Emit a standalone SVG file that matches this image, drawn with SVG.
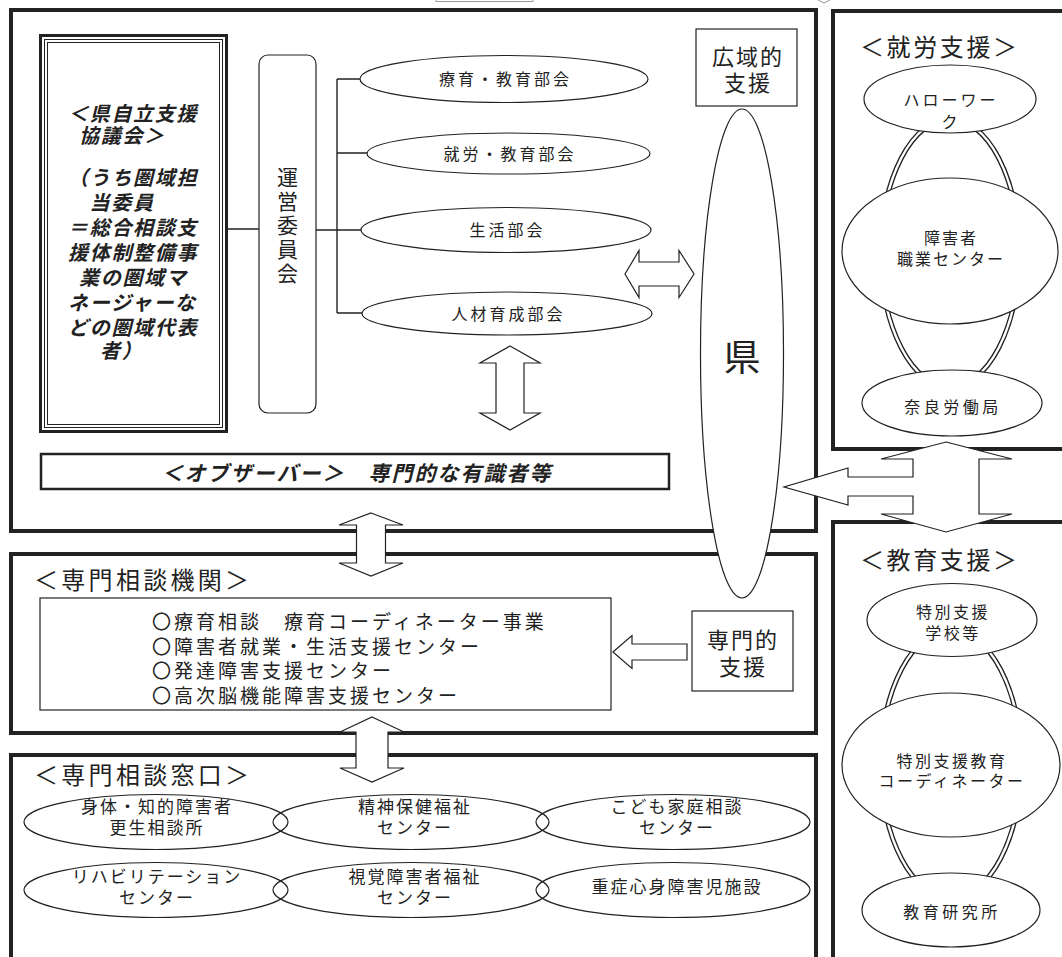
<svg xmlns="http://www.w3.org/2000/svg" width="1062" height="957" viewBox="0 0 1062 957">
<style>
.frame{fill:none;stroke:#222;stroke-width:4}
.thin{fill:#fff;stroke:#222;stroke-width:1.2}
.open{fill:none;stroke:#222;stroke-width:1.2}
.line{fill:none;stroke:#222;stroke-width:1.4}
.arr{fill:#fff;stroke:#222;stroke-width:1.2;stroke-linejoin:miter}
.dbl1{fill:none;stroke:#222;stroke-width:5}
.dbl2{fill:none;stroke:#fff;stroke-width:2.4}
.t{font-family:"Noto Sans CJK JP","Noto Sans CJK SC",sans-serif;fill:#222}
.bi{font-weight:bold;font-style:italic;font-size:20px;letter-spacing:1.7px}
.s16{font-size:16px;letter-spacing:3px}
.s17{font-size:17px;letter-spacing:2px}
.title{font-size:24px}
</style>
<rect width="1062" height="957" fill="#fff"/>
<g id="fragments">
<path d="M436,0 V1.5 H533 V0" fill="none" stroke="#999" stroke-width="1"/>
<path d="M818,0 L824,3 L830,0" fill="none" stroke="#999" stroke-width="1"/>
</g>
<g id="frames">
<rect class="frame" x="11" y="10" width="805" height="521"/>
<path class="frame" d="M1070,11 H833 V449 H1070"/>
<path class="frame" d="M1070,522 H833 V965"/>
<rect class="frame" x="11" y="554" width="805" height="179"/>
<path class="frame" d="M11,965 V755 H816 V965"/>
</g>
<g id="connectors">
<path class="line" d="M227,229 H259 M316,230 H337 M337,79 V313 M337,79 H360 M337,153 H367 M337,230 H361 M337,313 H362"/>
<ellipse class="dbl1" cx="950" cy="253" rx="69" ry="134"/>
<ellipse class="dbl2" cx="950" cy="253" rx="69" ry="134"/>
<ellipse class="dbl1" cx="951" cy="764" rx="70" ry="134"/>
<ellipse class="dbl2" cx="951" cy="764" rx="70" ry="134"/>
<polygon class="arr" points="625,274 639,250.5 639,262 679,262 679,250.5 694,274 679,297.5 679,286 639,286 639,297.5"/>
<polygon class="arr" points="510,346 540,363 524,363 524,413 540,413 510,430 480,413 496,413 496,363 480,363"/>
<polygon class="arr" points="371,513 403,525 385.5,525 385.5,563 403,563 371,576 339,563 356.5,563 356.5,525 339,525"/>
<polygon class="arr" points="372,717 404,732 388,732 388,768 404,768 372,782 340,768 356,768 356,732 340,732"/>
<polygon class="arr" points="613,652 632,635.5 632,644 687,644 687,660 632,660 632,668.5"/>
<polygon class="arr" points="946,442 1012,459 979,459 979,514 1012,514 946,532 881,514 913,514 913,496 848,496 848,505 784,487 848,468 848,477 913,477 913,459 881,459"/>
</g>
<g id="kyogikai">
<rect x="40.5" y="35.5" width="186" height="396" fill="#fff" stroke="#222" stroke-width="3"/>
<rect x="44.5" y="39.5" width="178" height="388" fill="none" stroke="#222" stroke-width="1"/>
<rect x="47.5" y="42.5" width="172" height="382" fill="none" stroke="#222" stroke-width="1"/>
<text class="t bi" x="68" y="120.5">＜県自立支援</text>
<text class="t bi" x="79" y="142.5">協議会＞</text>
<text class="t bi" x="68" y="184.5">（うち圏域担</text>
<text class="t bi" x="89.5" y="209.5">当委員</text>
<text class="t bi" x="68" y="234.5">＝総合相談支</text>
<text class="t bi" x="68" y="259.5">援体制整備事</text>
<text class="t bi" x="79" y="284.5">業の圏域マ</text>
<text class="t bi" x="68" y="309.5">ネージャーな</text>
<text class="t bi" x="68" y="334.5">どの圏域代表</text>
<text class="t bi" x="100" y="357.5">者）</text>
</g>
<g id="unei">
<rect class="thin" x="259" y="55" width="57" height="358" rx="9"/>
<text class="t" font-size="21" text-anchor="middle"><tspan x="287.5" y="184.5">運</tspan><tspan x="287.5" y="208.5">営</tspan><tspan x="287.5" y="232.5">委</tspan><tspan x="287.5" y="256.5">員</tspan><tspan x="287.5" y="280.5">会</tspan></text>
</g>
<g id="bukai1"><ellipse class="thin" cx="504" cy="79" rx="144" ry="23.5"/><text class="t s16" x="505.5" y="85" text-anchor="middle">療育・教育部会</text></g>
<g id="bukai2"><ellipse class="thin" cx="508.5" cy="153.5" rx="141.5" ry="20.5"/><text class="t s16" x="510" y="159.5" text-anchor="middle">就労・教育部会</text></g>
<g id="bukai3"><ellipse class="thin" cx="506" cy="230" rx="145" ry="22.5"/><text class="t s16" x="507.5" y="236" text-anchor="middle">生活部会</text></g>
<g id="bukai4"><ellipse class="thin" cx="507" cy="313.5" rx="145" ry="21.5"/><text class="t s16" x="508.5" y="319.5" text-anchor="middle">人材育成部会</text></g>
<g id="observer">
<rect x="41" y="454" width="628" height="35" fill="#fff" stroke="#222" stroke-width="2.5"/>
<text class="t bi" x="357" y="480.5" text-anchor="middle" style="font-size:21px;letter-spacing:2px">＜オブザーバー＞　専門的な有識者等</text>
</g>
<g id="koiki">
<rect class="thin" x="696" y="29" width="101" height="77"/>
<text class="t" font-size="22" letter-spacing="2" text-anchor="middle"><tspan x="748" y="65">広域的</tspan><tspan x="748" y="91">支援</tspan></text>
</g>
<g id="ken">
<ellipse class="thin" cx="742" cy="353.5" rx="41.5" ry="244.5"/>
<text class="t" font-size="37" x="742" y="371" text-anchor="middle">県</text>
</g>
<g id="senmon-kikan">
<text class="t title" x="34" y="589" letter-spacing="3.3">＜専門相談機関＞</text>
<rect class="thin" x="40" y="598" width="571" height="112"/>
<text class="t" font-size="19" letter-spacing="3"><tspan x="152" y="629">〇療育相談　療育コーディネーター事業</tspan><tspan x="152" y="653.5">〇障害者就業・生活支援センター</tspan><tspan x="152" y="678">〇発達障害支援センター</tspan><tspan x="152" y="702.5">〇高次脳機能障害支援センター</tspan></text>
</g>
<g id="senmon-shien">
<rect class="thin" x="692" y="611" width="101" height="80"/>
<text class="t" font-size="22" letter-spacing="2" text-anchor="middle"><tspan x="743" y="648">専門的</tspan><tspan x="743" y="675">支援</tspan></text>
</g>
<g id="shuro">
<text class="t title" x="860" y="56" letter-spacing="2.6">＜就労支援＞</text>
</g>
<g id="hellowork"><ellipse class="thin" cx="950" cy="99" rx="86" ry="34"/><text class="t s16" text-anchor="middle" letter-spacing="2.5"><tspan x="951" y="106">ハローワー</tspan><tspan x="951" y="128">ク</tspan></text></g>
<g id="shokugyo"><ellipse class="thin" cx="950" cy="251" rx="108" ry="73"/><text class="t s16" text-anchor="middle" style="letter-spacing:2px"><tspan x="951" y="244">障害者</tspan><tspan x="951" y="265">職業センター</tspan></text></g>
<g id="rodokyoku"><ellipse class="thin" cx="952" cy="403" rx="90" ry="33"/><text class="t s16" x="953" y="413" text-anchor="middle" style="letter-spacing:3.5px">奈良労働局</text></g>
<g id="kyoiku">
<text class="t title" x="860" y="569" letter-spacing="2.6">＜教育支援＞</text>
</g>
<g id="tokubetsu"><ellipse class="thin" cx="952" cy="620" rx="85" ry="36.5"/><text class="t s16" text-anchor="middle" style="letter-spacing:2.5px"><tspan x="953" y="618">特別支援</tspan><tspan x="953" y="639">学校等</tspan></text></g>
<g id="coordinator"><ellipse class="thin" cx="951" cy="765" rx="109" ry="72"/><text class="t s16" text-anchor="middle" style="letter-spacing:2.5px"><tspan x="952" y="767">特別支援教育</tspan><tspan x="952" y="787">コーディネーター</tspan></text></g>
<g id="kenkyujo"><ellipse class="thin" cx="951" cy="910" rx="89" ry="37"/><text class="t s16" x="952" y="918" text-anchor="middle" style="letter-spacing:3.5px">教育研究所</text></g>
<g id="madoguchi">
<text class="t title" x="34" y="784" letter-spacing="3.3">＜専門相談窓口＞</text>
</g>
<g id="w1"><ellipse class="open" cx="156" cy="822" rx="132" ry="27.5"/><text class="t s17" text-anchor="middle"><tspan x="157" y="812.5">身体・知的障害者</tspan><tspan x="157" y="833.5">更生相談所</tspan></text></g>
<g id="w2"><ellipse class="open" cx="411" cy="822" rx="138" ry="27.5"/><text class="t s17" text-anchor="middle"><tspan x="415" y="812.5">精神保健福祉</tspan><tspan x="415" y="833.5">センター</tspan></text></g>
<g id="w3"><ellipse class="open" cx="673" cy="822" rx="137" ry="27.5"/><text class="t s17" text-anchor="middle"><tspan x="677" y="812.5">こども家庭相談</tspan><tspan x="677" y="833.5">センター</tspan></text></g>
<g id="w4"><ellipse class="open" cx="156" cy="890" rx="132" ry="27.5"/><text class="t s17" text-anchor="middle"><tspan x="157" y="882.5">リハビリテーション</tspan><tspan x="157" y="903.5">センター</tspan></text></g>
<g id="w5"><ellipse class="open" cx="411" cy="890" rx="138" ry="27.5"/><text class="t s17" text-anchor="middle"><tspan x="415" y="882.5">視覚障害者福祉</tspan><tspan x="415" y="903.5">センター</tspan></text></g>
<g id="w6"><ellipse class="open" cx="673" cy="890" rx="137" ry="27.5"/><text class="t s17" x="677" y="893" text-anchor="middle">重症心身障害児施設</text></g>
</svg>
